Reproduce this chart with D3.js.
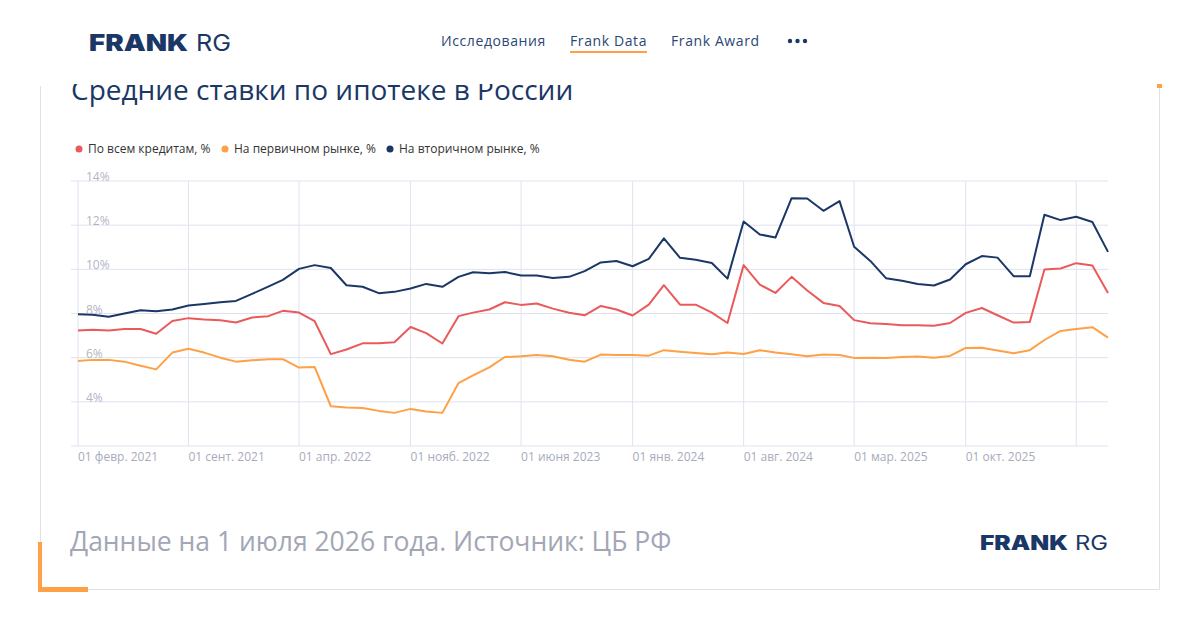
<!DOCTYPE html>
<html lang="ru">
<head>
<meta charset="utf-8">
<title>Средние ставки по ипотеке в России</title>
<script src="https://d3js.org/d3.v7.min.js"></script>
<style>
  body { margin: 0; background: #fff; }
  text { font-family: "Open Sans", sans-serif; }
</style>
</head>
<body>
<svg id="chart" width="1200" height="630"></svg>
<script>
// months, Feb 2021 .. Jul 2026
var months = [
  "2021-02","2021-03","2021-04","2021-05","2021-06","2021-07","2021-08","2021-09","2021-10","2021-11","2021-12",
  "2022-01","2022-02","2022-03","2022-04","2022-05","2022-06","2022-07","2022-08","2022-09","2022-10","2022-11","2022-12",
  "2023-01","2023-02","2023-03","2023-04","2023-05","2023-06","2023-07","2023-08","2023-09","2023-10","2023-11","2023-12",
  "2024-01","2024-02","2024-03","2024-04","2024-05","2024-06","2024-07","2024-08","2024-09","2024-10","2024-11","2024-12",
  "2025-01","2025-02","2025-03","2025-04","2025-05","2025-06","2025-07","2025-08","2025-09","2025-10","2025-11","2025-12",
  "2026-01","2026-02","2026-03","2026-04","2026-05","2026-06","2026-07"
];

// по всем кредитам
var allLoans = [
  7.23,7.26,7.23,7.30,7.30,7.08,7.66,7.79,7.73,7.69,7.59,7.82,7.88,8.12,8.04,7.65,
  6.16,6.37,6.65,6.65,6.70,7.39,7.11,6.64,7.88,8.04,8.18,8.51,8.39,8.45,8.22,8.03,7.92,8.34,
  8.18,7.91,8.40,9.28,8.40,8.40,8.04,7.57,10.19,9.31,8.93,9.66,9.04,8.48,8.34,7.70,
  7.56,7.53,7.47,7.47,7.45,7.57,8.03,8.25,7.92,7.59,7.62,9.99,10.04,10.28,10.17,8.93
];
// на первичном рынке
var primary = [
  5.85,5.90,5.90,5.82,5.63,5.47,6.23,6.40,6.23,6.00,5.82,5.88,5.93,5.93,5.55,5.58,
  3.80,3.74,3.72,3.59,3.50,3.68,3.56,3.50,4.85,5.20,5.56,6.03,6.06,6.12,6.06,5.91,5.82,6.14,
  6.12,6.12,6.09,6.34,6.27,6.21,6.15,6.23,6.17,6.34,6.23,6.15,6.06,6.14,6.12,5.99,
  6.00,5.99,6.03,6.05,6.00,6.08,6.44,6.45,6.32,6.20,6.34,6.80,7.21,7.30,7.38,6.91
];
// на вторичном рынке
var secondary = [
  7.97,7.94,7.85,8.00,8.15,8.10,8.18,8.36,8.43,8.51,8.57,8.89,9.22,9.52,10.02,10.19,
  10.06,9.28,9.21,8.92,8.98,9.13,9.34,9.21,9.66,9.87,9.82,9.88,9.72,9.72,9.61,9.66,9.92,10.31,
  10.38,10.14,10.47,11.40,10.52,10.43,10.29,9.58,12.17,11.58,11.44,13.22,13.21,12.65,13.09,11.02,
  10.38,9.60,9.48,9.34,9.27,9.54,10.23,10.60,10.53,9.69,9.69,12.47,12.23,12.38,12.14,10.79
];

var seriesNames = ["По всем кредитам, %", "На первичном рынке, %", "На вторичном рынке, %"];
var seriesColors = ["#ea5a5a", "#fea045", "#1b3766"];

var yTicks = [4, 6, 8, 10, 12, 14];
var xTickMonths = ["2021-02","2021-09","2022-04","2022-11","2023-06","2024-01","2024-08","2025-03","2025-10","2026-05"];
var xTickLabels = ["01 февр. 2021","01 сент. 2021","01 апр. 2022","01 нояб. 2022","01 июня 2023",
                   "01 янв. 2024","01 авг. 2024","01 мар. 2025","01 окт. 2025",""];

var navItems = ["Исследования", "Frank Data", "Frank Award"];

var parseMonth = d3.timeParse("%Y-%m");
var dates = months.map(parseMonth);

var svg = d3.select("#chart");
var navy = "#1b3766";

// logo helper: bold FRANK + light RG, stretched to the measured widths
function drawLogo(x0, base, size, wFrank, gap, wRg) {
  svg.append("text").attr("x", x0).attr("y", base).attr("fill", navy)
    .attr("textLength", wFrank).attr("lengthAdjust", "spacingAndGlyphs")
    .style("font-family", "Inter, sans-serif").style("font-weight", 900).style("font-size", size + "px")
    .text("FRANK");
  svg.append("text").attr("x", x0 + wFrank + gap).attr("y", base).attr("fill", navy)
    .attr("textLength", wRg).attr("lengthAdjust", "spacingAndGlyphs")
    .style("font-family", "Inter, sans-serif").style("font-weight", 400).style("font-size", size + "px")
    .text("RG");
}

// ---------- header ----------
drawLogo(89, 50.5, 23, 99, 8, 35);

var navX = [441, 570, 671];
svg.selectAll(".nav").data(navItems).enter().append("text")
  .attr("x", function(d, i){ return navX[i]; })
  .attr("y", 46)
  .attr("fill", "#2b4775")
  .style("font-size", "14px")
  .style("letter-spacing", "0.6px")
  .text(function(d){ return d; });
svg.append("rect").attr("x", 570).attr("y", 51).attr("width", 77).attr("height", 2).attr("fill", "#fea045");
svg.selectAll(".dot").data([0, 1, 2]).enter().append("circle")
  .attr("cx", function(d){ return 790 + d * 7.5; }).attr("cy", 41).attr("r", 2.2).attr("fill", navy);

// ---------- card frame ----------
svg.append("path").attr("d", "M40.5,86 V589.5 H1159.5 V86")
  .attr("fill", "none").attr("stroke", "#e2e2e2").attr("stroke-width", 1);
svg.append("rect").attr("x", 1157).attr("y", 84).attr("width", 5).attr("height", 4).attr("fill", "#fea045");
svg.append("rect").attr("x", 38).attr("y", 542).attr("width", 4).attr("height", 50).attr("fill", "#fea045");
svg.append("rect").attr("x", 38).attr("y", 587).attr("width", 50).attr("height", 5).attr("fill", "#fea045");

// title (top is cut off by the card edge)
svg.append("clipPath").attr("id", "titleClip")
  .append("rect").attr("x", 0).attr("y", 84).attr("width", 1200).attr("height", 40);
svg.append("text").attr("x", 71).attr("y", 100)
  .attr("clip-path", "url(#titleClip)")
  .attr("fill", navy).style("font-size", "28px")
  .text("Средние ставки по ипотеке в России");

// legend
var legX = [79, 225, 390];
var leg = svg.selectAll(".leg").data(seriesNames).enter().append("g")
  .attr("transform", function(d, i){ return "translate(" + legX[i] + ",149)"; });
leg.append("circle").attr("r", 3.5).attr("fill", function(d, i){ return seriesColors[i]; });
leg.append("text").attr("x", 9).attr("y", 4).attr("fill", "#333")
  .style("font-size", "12px").text(function(d){ return d; });

// ---------- chart ----------
var x = d3.scaleTime().domain([dates[0], dates[dates.length - 1]]).range([78, 1108]);
var y = d3.scaleLinear().domain([2, 14]).range([446, 181]);

var gridColor = "#dfe3f0";
// horizontal grid
svg.append("g").selectAll("line").data([2].concat(yTicks)).enter().append("line")
  .attr("x1", 71).attr("x2", 1108)
  .attr("y1", function(d){ return y(d); }).attr("y2", function(d){ return y(d); })
  .attr("stroke", gridColor).attr("stroke-width", 1);
// vertical grid
svg.append("g").selectAll("line").data(xTickMonths).enter().append("line")
  .attr("x1", function(d){ return x(parseMonth(d)); }).attr("x2", function(d){ return x(parseMonth(d)); })
  .attr("y1", y(14)).attr("y2", y(2))
  .attr("stroke", gridColor).attr("stroke-width", 1);

// x labels
svg.append("g").selectAll("text").data(xTickMonths).enter().append("text")
  .attr("x", function(d){ return x(parseMonth(d)); })
  .attr("y", 461)
  .attr("fill", "#a7abbb").style("font-size", "12px")
  .text(function(d, i){ return xTickLabels[i]; });

// lines
var line = d3.line()
  .x(function(d, i){ return x(dates[i]); })
  .y(function(d){ return y(d); });

[allLoans, primary, secondary].forEach(function(s, i){
  svg.append("path").datum(s)
    .attr("d", line)
    .attr("fill", "none")
    .attr("stroke", seriesColors[i])
    .attr("stroke-width", 2)
    .attr("stroke-linejoin", "round");
});

// y labels (drawn on top)
svg.append("g").selectAll("text").data(yTicks).enter().append("text")
  .attr("x", 86).attr("y", function(d){ return y(d); })
  .attr("fill", "#a7abbb").attr("fill-opacity", 0.9).style("font-size", "12px")
  .text(function(d){ return d + "%"; });

// ---------- footer ----------
svg.append("text").attr("x", 70).attr("y", 551)
  .attr("fill", "#a2a6b6").style("font-size", "26.5px")
  .text("Данные на 1 июля 2026 года. Источник: ЦБ РФ");

drawLogo(980, 549.5, 19.5, 88, 7, 33);
</script>
</body>
</html>
